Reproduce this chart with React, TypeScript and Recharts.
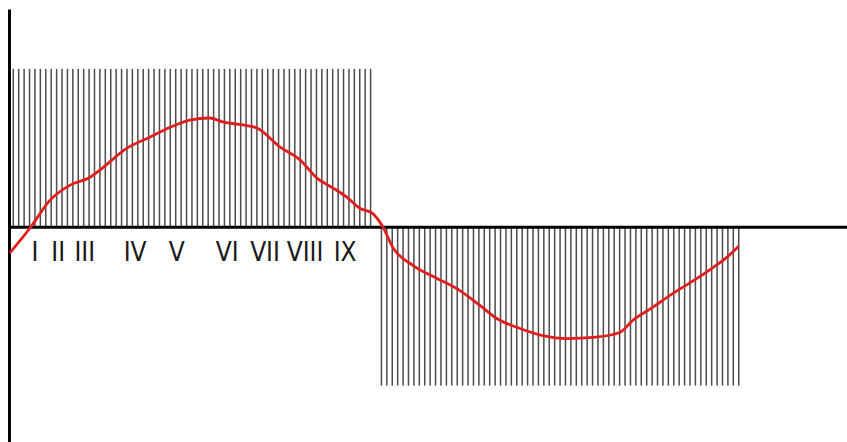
import React from 'react';
import {
  ComposedChart,
  Bar,
  Line,
  Scatter,
  XAxis,
  YAxis,
  ReferenceLine,
} from 'recharts';

// Hatch columns: up above the axis, down below it, one empty slot at the crossing
const HATCH_VALUES = [
  1, 1, 1, 1, 1, 1, 1, 1, 1, 1,
  1, 1, 1, 1, 1, 1, 1, 1, 1, 1,
  1, 1, 1, 1, 1, 1, 1, 1, 1, 1,
  1, 1, 1, 1, 1, 1, 1, 1, 1, 1,
  1, 1, 1, 1, 1, 1, 1, 1, 1, 1,
  1, 1, 1, 1, 1, 1, 1, 1, 1, 1,
  1, 1, 1, 1, 1, 1, 1,
  0,
  -1, -1, -1, -1, -1, -1, -1, -1, -1, -1,
  -1, -1, -1, -1, -1, -1, -1, -1, -1, -1,
  -1, -1, -1, -1, -1, -1, -1, -1, -1, -1,
  -1, -1, -1, -1, -1, -1, -1, -1, -1, -1,
  -1, -1, -1, -1, -1, -1, -1, -1, -1, -1,
  -1, -1, -1, -1, -1, -1, -1, -1, -1, -1,
  -1, -1, -1, -1, -1, -1, -1,
];

// Red curve
const CURVE_X = [
  0.3, 4.2, 7.8, 11.5, 15.2, 17.0, 22.0, 26.3, 30.5, 33.6, 37.3, 39.7, 43.4,
  46.0, 50.3, 54.0, 57.1, 60.1, 62.6, 65.0, 67.3, 69.3, 71.1, 74.8, 79.3,
  83.5, 87.2, 90.3, 94.6, 98.8, 103.3, 108.1, 113.0, 115.4, 119.1, 122.3,
  127.3, 130.3, 132.8, 135.0,
];
const CURVE_Y = [
  -0.165, 0.0, 0.171, 0.266, 0.316, 0.361, 0.5, 0.57, 0.639, 0.677, 0.69,
  0.665, 0.646, 0.627, 0.506, 0.424, 0.31, 0.247, 0.19, 0.12, 0.089, 0.0,
  -0.127, -0.24, -0.323, -0.4, -0.494, -0.576, -0.639, -0.684, -0.703,
  -0.696, -0.665, -0.589, -0.506, -0.43, -0.323, -0.253, -0.19, -0.12,
];

// Roman numerals along the axis
const ROMAN = ['I', 'II', 'III', 'IV', 'V', 'VI', 'VII', 'VIII', 'IX'];
const ROMAN_AT = [5.0, 9.3, 14.2, 23.5, 31.2, 40.5, 47.5, 54.9, 62.3];

const X_MIN = 0.3;

const hatchData = HATCH_VALUES.map((v, i) => ({ x: i + 1, v }));
const curveData = CURVE_X.map((x, i) => ({ x, y: CURVE_Y[i] }));
const labelData = ROMAN.map((name, i) => ({ x: ROMAN_AT[i], y: 0, name }));

// thin hatch stroke centred on the bar slot
const HatchLine = (props: any) => {
  const { x, y, width, height } = props;
  if (!height) return null;
  const cx = x + width / 2;
  const top = Math.min(y, y + height);
  return <rect x={cx - 0.75} y={top} width={1.5} height={Math.abs(height)} fill="#4d4d4d" />;
};

const RomanLabel = (props: any) => (
  <text
    x={props.cx}
    y={props.cy + 34}
    textAnchor="middle"
    fill="#1a1a1a"
    fontSize={26}
    fontFamily="'Liberation Sans Narrow', 'DejaVu Sans Condensed', sans-serif"
  >
    {props.payload?.name}
  </text>
);

export default function App() {
  return (
    <div
      style={{
        position: 'absolute',
        left: 0,
        top: 0,
        width: 847,
        height: 442,
        overflow: 'hidden',
        background: '#fff',
      }}
    >
      <ComposedChart
        width={847}
        height={446}
        data={hatchData}
        margin={{ top: 9.5, right: 0, bottom: 1, left: 9.5 }}
      >
        <XAxis type="number" dataKey="x" domain={[X_MIN, 155]} hide allowDataOverflow />
        <YAxis type="number" domain={[-1.375, 1.375]} hide allowDataOverflow />
        <Bar dataKey="v" shape={HatchLine} isAnimationActive={false} />
        <ReferenceLine x={X_MIN} stroke="#000" strokeWidth={3} />
        <ReferenceLine y={0} stroke="#000" strokeWidth={3} />
        <Line
          data={curveData}
          dataKey="y"
          type="monotone"
          stroke="#e01e1e"
          strokeWidth={2.8}
          dot={false}
          isAnimationActive={false}
        />
        <Scatter data={labelData} dataKey="y" shape={RomanLabel} isAnimationActive={false} />
      </ComposedChart>
    </div>
  );
}
